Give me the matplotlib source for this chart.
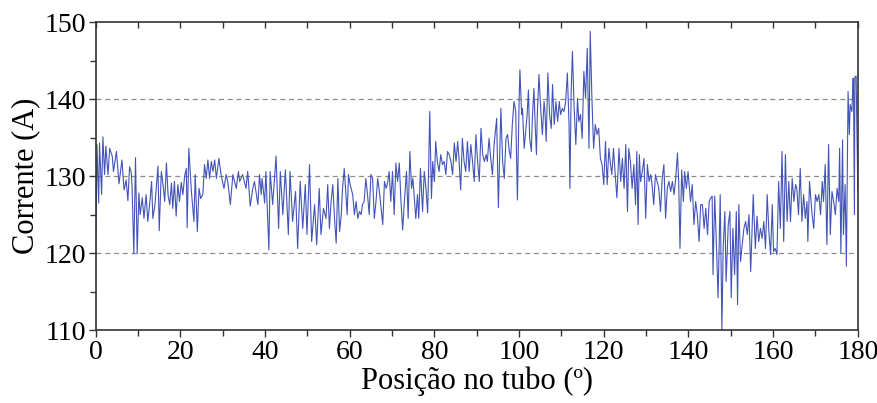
import numpy as np
import matplotlib
matplotlib.use("Agg")
import matplotlib.pyplot as plt
from matplotlib.ticker import MultipleLocator

# Posicao no tubo (graus) e corrente (A)
posicao = [
    0.0, 0.3, 0.7, 0.9, 1.4, 1.7, 2.1, 2.4, 2.9, 3.3,
    3.9, 4.2, 4.9, 5.5, 6.2, 6.7, 7.2, 7.6, 8.0, 8.4,
    8.6, 9.0, 9.4, 9.8, 10.2, 10.5, 11.0, 11.4, 11.9, 12.3,
    12.8, 13.2, 13.5, 14.0, 14.7, 15.0, 15.5, 16.0, 16.3, 16.7,
    17.1, 17.5, 17.9, 18.2, 18.6, 19.0, 19.4, 19.8, 20.2, 20.6,
    21.0, 21.4, 21.6, 22.0, 22.6, 23.2, 23.5, 24.0, 24.4, 24.8,
    25.3, 25.7, 26.1, 26.5, 26.9, 27.3, 27.7, 28.1, 28.5, 29.1,
    29.6, 30.3, 30.8, 31.2, 31.8, 32.4, 32.8, 33.2, 33.7, 34.0,
    34.7, 35.5, 35.9, 36.5, 37.1, 37.5, 38.3, 38.7, 39.1, 39.3,
    39.9, 40.2, 40.9, 41.2, 41.8, 42.6, 43.2, 43.6, 44.2, 44.8,
    45.5, 45.9, 46.5, 47.2, 47.7, 48.3, 48.9, 49.5, 49.9, 50.5,
    51.0, 51.7, 52.2, 52.8, 53.2, 53.8, 54.4, 54.8, 55.2, 55.6,
    56.0, 56.4, 56.8, 57.2, 57.6, 58.0, 58.3, 58.7, 59.1, 59.4,
    59.7, 60.1, 60.7, 61.1, 61.5, 61.9, 62.3, 62.7, 63.0, 63.4,
    63.8, 64.2, 64.6, 65.0, 65.4, 65.8, 66.2, 66.6, 67.0, 67.4,
    67.8, 68.2, 68.6, 69.0, 69.3, 69.7, 70.1, 70.5, 70.9, 71.3,
    71.7, 72.1, 72.5, 72.9, 73.4, 73.8, 74.2, 74.6, 74.9, 75.2,
    75.6, 76.0, 76.3, 76.7, 77.2, 77.6, 78.0, 78.4, 78.6, 78.9,
    79.3, 79.6, 80.0, 80.3, 80.7, 81.1, 81.5, 81.9, 82.3, 82.7,
    83.1, 83.5, 83.9, 84.3, 84.7, 85.1, 85.5, 85.8, 86.2, 86.6,
    87.0, 87.4, 87.8, 88.2, 88.6, 89.0, 89.4, 89.8, 90.2, 90.6,
    91.0, 91.4, 91.8, 92.2, 92.5, 92.9, 93.3, 93.7, 94.1, 94.7,
    95.1, 95.7, 96.1, 96.5, 96.9, 97.3, 97.6, 98.0, 98.4, 98.8,
    99.2, 99.6, 100.0, 100.2, 100.6, 100.8, 101.2, 101.6, 101.9, 102.2,
    102.5, 102.9, 103.1, 103.5, 103.8, 104.1, 104.3, 104.7, 105.1, 105.5,
    105.9, 106.1, 106.4, 106.8, 107.2, 107.6, 107.9, 108.3, 108.7, 109.1,
    109.5, 109.8, 110.2, 110.6, 111.0, 111.4, 111.8, 112.0, 112.3, 112.6,
    113.0, 113.4, 113.8, 114.1, 114.5, 114.9, 115.3, 115.7, 116.1, 116.5,
    116.8, 117.2, 117.6, 118.0, 118.4, 118.8, 119.2, 119.6, 120.0, 120.4,
    120.8, 121.2, 121.6, 121.9, 122.3, 122.7, 123.1, 123.6, 124.0, 124.4,
    124.8, 125.2, 125.6, 125.9, 126.3, 126.7, 127.1, 127.5, 127.8, 128.1,
    128.4, 128.7, 129.1, 129.5, 129.9, 130.3, 130.7, 131.1, 131.4, 131.8,
    132.2, 132.6, 133.0, 133.4, 133.8, 134.2, 134.6, 135.0, 135.4, 135.8,
    136.2, 136.6, 137.0, 137.4, 137.7, 138.0, 138.4, 138.8, 139.1, 139.5,
    139.9, 140.5, 140.9, 141.3, 141.7, 142.1, 142.5, 142.9, 143.3, 143.7,
    144.1, 144.5, 144.9, 145.2, 145.6, 145.8, 146.2, 146.5, 147.0, 147.5,
    147.9, 148.2, 148.6, 148.9, 149.4, 149.8, 150.1, 150.5, 150.9, 151.3,
    151.6, 151.9, 152.3, 152.7, 153.1, 153.5, 153.9, 154.3, 154.7, 155.3,
    155.8, 156.2, 156.6, 157.0, 157.4, 157.8, 158.2, 158.6, 159.0, 159.4,
    159.8, 160.1, 160.5, 160.9, 161.3, 161.7, 162.1, 162.5, 162.9, 163.3,
    163.7, 164.1, 164.5, 164.9, 165.3, 165.6, 166.0, 166.4, 166.8, 167.2,
    167.6, 168.0, 168.2, 168.6, 169.2, 169.6, 170.0, 170.4, 170.8, 171.2,
    171.6, 171.9, 172.3, 172.7, 173.1, 173.5, 173.9, 174.3, 174.7, 175.1,
    175.5, 175.7, 176.0, 176.4, 176.6, 177.0, 177.3, 177.7, 178.0, 178.2,
    178.6, 178.9, 179.0, 179.2, 179.3, 179.6, 180.0,
]

corrente = [
    119.5, 134.1, 126.5, 134.3, 127.6, 135.1, 130.2, 133.9, 130.2, 133.6,
    132.6, 130.6, 133.2, 129.0, 132.1, 128.2, 129.5, 126.8, 131.2, 130.5,
    128.5, 119.9, 132.4, 119.9, 127.8, 125.0, 127.2, 124.5, 127.6, 124.1,
    126.7, 129.3, 124.5, 126.3, 131.3, 122.9, 130.6, 128.4, 126.7, 131.7,
    127.5, 126.3, 129.1, 125.8, 129.3, 124.8, 128.9, 126.7, 129.2, 127.6,
    130.0, 131.0, 123.3, 133.6, 128.0, 124.1, 130.2, 122.8, 128.4, 127.1,
    127.6, 131.5, 129.7, 132.1, 129.7, 131.9, 130.6, 132.1, 129.7, 132.3,
    130.2, 128.4, 130.2, 129.3, 126.3, 130.2, 129.3, 128.4, 130.6, 129.3,
    130.2, 128.4, 130.6, 126.1, 128.4, 129.3, 126.3, 130.2, 127.6, 129.7,
    126.5, 130.6, 120.4, 130.6, 126.3, 132.6, 123.2, 130.6, 125.0, 130.8,
    122.4, 130.6, 124.1, 128.0, 120.6, 129.3, 123.2, 128.9, 122.4, 131.5,
    121.5, 126.3, 121.1, 128.4, 122.4, 125.8, 124.5, 128.9, 123.2, 126.7,
    128.9, 124.5, 121.3, 129.7, 122.8, 125.0, 128.4, 131.0, 127.6, 125.0,
    130.2, 128.9, 127.6, 125.0, 126.7, 124.5, 125.4, 125.0, 126.3, 126.7,
    129.7, 127.6, 125.0, 130.2, 129.7, 124.5, 126.7, 129.7, 128.0, 125.8,
    123.7, 129.3, 128.4, 129.3, 130.6, 126.7, 130.6, 125.0, 131.7, 129.3,
    131.7, 126.7, 123.0, 126.7, 130.6, 124.5, 133.2, 128.4, 129.7, 127.6,
    124.5, 127.6, 124.5, 131.0, 125.4, 130.6, 128.4, 125.2, 130.2, 138.4,
    127.1, 131.9, 129.3, 134.5, 131.9, 130.6, 132.8, 131.5, 131.9, 130.2,
    133.2, 132.8, 131.9, 130.2, 134.3, 131.9, 134.5, 132.3, 128.2, 134.9,
    131.9, 130.6, 134.5, 130.6, 134.1, 131.9, 129.3, 135.4, 131.9, 129.3,
    136.2, 132.8, 131.9, 132.8, 131.9, 134.9, 132.3, 130.2, 134.1, 137.5,
    125.9, 138.8, 131.9, 129.7, 134.9, 135.4, 133.6, 132.3, 136.7, 139.7,
    138.4, 126.9, 139.7, 143.8, 138.0, 138.8, 133.6, 136.2, 138.0, 141.2,
    134.9, 133.2, 137.1, 141.4, 136.7, 132.8, 138.0, 143.2, 138.8, 135.4,
    139.7, 138.4, 134.5, 143.4, 138.0, 136.2, 141.9, 136.7, 139.7, 137.1,
    139.7, 138.0, 138.8, 138.4, 139.7, 143.4, 136.7, 128.4, 141.0, 146.2,
    138.8, 134.1, 140.1, 137.1, 138.0, 134.9, 143.6, 140.1, 146.6, 133.6,
    148.8, 140.1, 133.6, 136.7, 135.4, 136.2, 132.3, 131.5, 128.9, 134.5,
    128.9, 133.6, 131.5, 130.2, 133.6, 130.2, 127.2, 133.6, 129.3, 132.3,
    128.4, 134.1, 125.4, 133.6, 131.9, 128.4, 131.5, 126.3, 133.2, 123.7,
    132.8, 129.3, 130.6, 132.3, 124.5, 131.5, 129.3, 130.2, 128.9, 126.3,
    130.2, 129.3, 128.4, 125.4, 129.7, 131.5, 124.5, 128.4, 129.3, 128.0,
    129.3, 127.6, 129.7, 133.0, 129.3, 120.6, 130.8, 126.7, 130.6, 128.4,
    130.6, 126.7, 128.9, 123.7, 126.7, 125.0, 121.5, 126.3, 126.3, 123.2,
    125.8, 122.4, 126.7, 127.1, 127.4, 117.2, 127.4, 122.8, 114.2, 127.6,
    110.0, 120.6, 125.4, 116.3, 123.7, 125.4, 114.2, 123.2, 117.2, 125.4,
    113.3, 126.3, 118.9, 121.1, 123.2, 124.1, 122.4, 125.0, 117.6, 127.6,
    120.6, 124.8, 121.5, 123.2, 121.9, 124.1, 120.6, 127.6, 122.8, 119.8,
    126.3, 120.2, 120.6, 119.8, 129.3, 123.2, 133.2, 121.5, 132.8, 124.1,
    129.3, 124.1, 129.7, 126.7, 128.9, 128.4, 125.0, 131.0, 124.1, 127.6,
    124.5, 126.7, 121.5, 129.3, 125.0, 123.2, 127.6, 126.7, 127.6, 125.0,
    129.3, 126.7, 131.5, 121.1, 134.1, 122.4, 128.0, 126.7, 125.0, 128.4,
    126.7, 133.6, 120.0, 134.7, 122.4, 128.9, 118.3, 141.0, 135.4, 139.3,
    138.4, 142.7, 140.6, 125.0, 142.9, 143.0, 128.2,
]

assert len(posicao) == len(corrente)

plt.rcParams["font.family"] = ["Liberation Serif", "DejaVu Serif"]

fig = plt.figure(figsize=(8.78, 4.03), dpi=100)
ax = fig.add_axes([0.109, 0.181, 0.868, 0.764])

ax.plot(posicao, corrente, color="#4354b8", linewidth=0.8)

# linhas de grade tracejadas apenas em 120, 130 e 140
for yv in [120, 130, 140]:
    ax.axhline(yv, color="#8c8c8c", linestyle=(0, (4, 3)), linewidth=0.9, zorder=0)

ax.set_xlim(0, 180)
ax.set_ylim(110, 150)
ax.xaxis.set_major_locator(MultipleLocator(20))
ax.xaxis.set_minor_locator(MultipleLocator(10))
ax.yaxis.set_major_locator(MultipleLocator(10))
ax.yaxis.set_minor_locator(MultipleLocator(5))

ax.tick_params(axis="both", which="major", direction="out", length=5,
               width=1, labelsize=20, color="#333333")
ax.tick_params(axis="both", which="minor", direction="out", length=4,
               width=1, color="#333333")
ax.tick_params(axis="x", pad=2)
ax.tick_params(axis="y", pad=2)

# marcas no topo, para dentro
top = ax.secondary_xaxis("top")
top.xaxis.set_major_locator(MultipleLocator(20))
top.xaxis.set_minor_locator(MultipleLocator(10))
top.tick_params(which="both", direction="in", length=4, width=1,
                labeltop=False, color="#333333")
top.spines["top"].set_visible(False)

for s in ax.spines.values():
    s.set_linewidth(1.2)
    s.set_color("#333333")

ax.set_xlabel("Posição no tubo (º)", fontsize=22, labelpad=1)
ax.set_ylabel("Corrente (A)", fontsize=22, labelpad=3)

fig.savefig("out.png", dpi=100)
